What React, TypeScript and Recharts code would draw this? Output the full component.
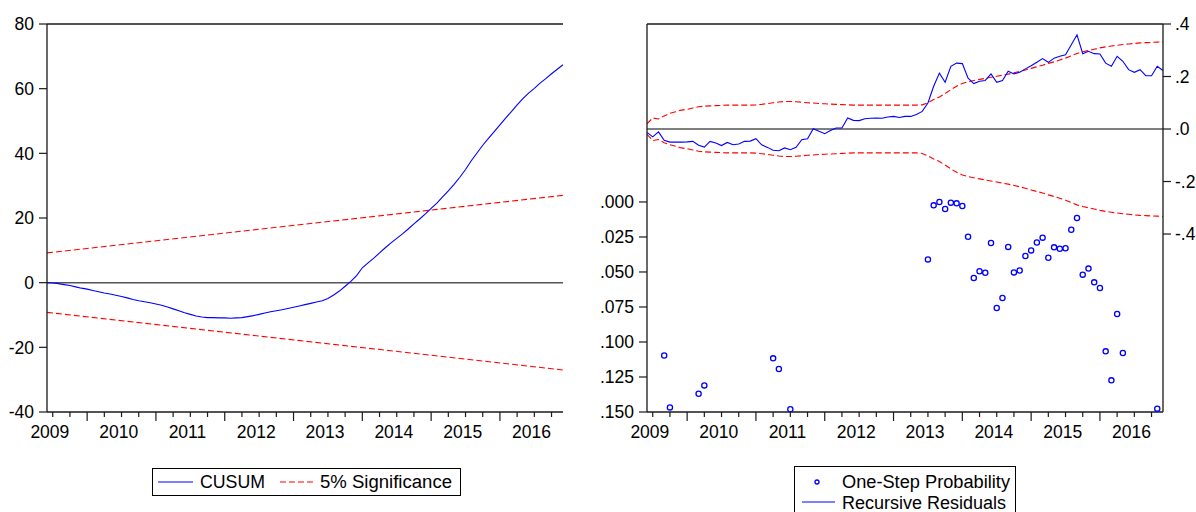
import { ComposedChart, Line, Scatter, XAxis, YAxis, ReferenceLine } from 'recharts';

const FONT = 'Arial, "Liberation Sans", Helvetica, sans-serif';

// month index of each observation (plot runs from obs 0 to obs 90)
const months = Array.from({ length: 91 }, (_, i) => i);

// x-axis decoration: quarterly minor ticks, longer ticks, year labels
const minorTicks = [1, 4, 7, 10, 13, 16, 19, 22, 25, 28, 31, 34, 37, 40, 43, 46, 49, 52, 55, 58, 61, 64, 67, 70, 73, 76, 79, 82, 85, 88];
const majorTicks = [7, 19, 31, 43, 55, 67, 79];
const yearPos = [0.5, 12.5, 24.5, 36.5, 48.5, 60.5, 72.5, 84.5];
const yearLabels = ['2009', '2010', '2011', '2012', '2013', '2014', '2015', '2016'];

// CUSUM test
const cusum = [
  0, -0.1, -0.3, -0.6, -0.9, -1.3, -1.7, -2.0, -2.4, -2.8,
  -3.2, -3.5, -3.9, -4.3, -4.7, -5.2, -5.6, -5.9, -6.2, -6.6,
  -7.0, -7.5, -8.1, -8.7, -9.3, -9.8, -10.3, -10.6, -10.8, -10.8,
  -10.9, -10.9, -11.0, -10.9, -10.8, -10.5, -10.2, -9.8, -9.4, -9.0,
  -8.7, -8.4, -8.0, -7.6, -7.2, -6.8, -6.4, -6.0, -5.6, -4.9,
  -3.8, -2.6, -1.1, 0.4, 2.2, 4.6, 6.1, 7.6, 9.2, 10.8,
  12.3, 13.7, 15.1, 16.6, 18.2, 19.7, 21.3, 23.0, 24.6, 26.5,
  28.4, 30.4, 32.6, 35.0, 37.7, 40.1, 42.5, 44.6, 46.7, 48.8,
  50.9, 52.9, 55.0, 56.9, 58.6, 60.1, 61.7, 63.1, 64.6, 66.0, 67.4,
];
const sigT = [0, 90];
const sigUpper = [9.2, 27.0];
const sigLower = [-9.2, -27.0];
const cusumTicks = [-40, -20, 0, 20, 40, 60, 80];

// recursive residuals with +/- 2 S.E. bands
const recRes = [
  -0.013, -0.030, -0.011, -0.043, -0.050, -0.050, -0.050, -0.049, -0.047, -0.062,
  -0.069, -0.047, -0.053, -0.063, -0.051, -0.060, -0.057, -0.047, -0.046, -0.037,
  -0.060, -0.070, -0.081, -0.083, -0.072, -0.079, -0.070, -0.041, -0.037, 0.001,
  -0.009, -0.018, -0.006, 0.004, 0.004, 0.042, 0.033, 0.032, 0.039, 0.041,
  0.042, 0.041, 0.046, 0.048, 0.044, 0.048, 0.048, 0.055, 0.067, 0.099,
  0.163, 0.213, 0.178, 0.239, 0.251, 0.249, 0.194, 0.173, 0.182, 0.185,
  0.210, 0.178, 0.185, 0.220, 0.210, 0.216, 0.229, 0.241, 0.254, 0.268,
  0.254, 0.270, 0.277, 0.283, 0.321, 0.359, 0.287, 0.296, 0.287, 0.286,
  0.251, 0.239, 0.277, 0.258, 0.226, 0.216, 0.226, 0.203, 0.203, 0.239, 0.223,
];
const seUpper = [
  0.020, 0.042, 0.038, 0.050, 0.060, 0.066, 0.072, 0.075, 0.080, 0.085,
  0.087, 0.088, 0.089, 0.090, 0.091, 0.091, 0.091, 0.091, 0.091, 0.092,
  0.094, 0.097, 0.100, 0.103, 0.105, 0.105, 0.104, 0.102, 0.100, 0.099,
  0.097, 0.096, 0.095, 0.094, 0.093, 0.092, 0.091, 0.091, 0.091, 0.091,
  0.091, 0.091, 0.091, 0.091, 0.091, 0.091, 0.091, 0.091, 0.092, 0.100,
  0.112, 0.122, 0.135, 0.150, 0.163, 0.173, 0.180, 0.185, 0.189, 0.193,
  0.197, 0.201, 0.205, 0.209, 0.214, 0.219, 0.225, 0.231, 0.237, 0.243,
  0.250, 0.256, 0.263, 0.270, 0.279, 0.288, 0.294, 0.299, 0.304, 0.309,
  0.313, 0.316, 0.319, 0.322, 0.324, 0.326, 0.328, 0.329, 0.330, 0.331, 0.332,
];
const seLower = [
  -0.020, -0.044, -0.040, -0.052, -0.060, -0.066, -0.072, -0.075, -0.080, -0.085,
  -0.087, -0.088, -0.089, -0.090, -0.091, -0.091, -0.091, -0.091, -0.091, -0.092,
  -0.094, -0.097, -0.100, -0.103, -0.105, -0.105, -0.104, -0.102, -0.100, -0.099,
  -0.097, -0.096, -0.095, -0.094, -0.093, -0.092, -0.091, -0.091, -0.091, -0.091,
  -0.091, -0.091, -0.091, -0.091, -0.091, -0.091, -0.091, -0.091, -0.093, -0.102,
  -0.114, -0.124, -0.137, -0.152, -0.165, -0.175, -0.181, -0.186, -0.190, -0.194,
  -0.198, -0.202, -0.206, -0.210, -0.215, -0.220, -0.226, -0.232, -0.238, -0.244,
  -0.251, -0.257, -0.264, -0.271, -0.280, -0.289, -0.295, -0.300, -0.305, -0.310,
  -0.314, -0.317, -0.320, -0.323, -0.325, -0.327, -0.329, -0.330, -0.331, -0.332, -0.333,
];
const resTicks = [-0.4, -0.2, 0, 0.2, 0.4];

// one-step forecast test probabilities (only those <= .15 are plotted)
const probT = [3, 4, 9, 10, 22, 23, 25, 49, 50, 51, 52, 53, 54, 55, 56, 57, 58, 59, 60, 61, 62, 63, 64, 65, 66, 67, 68, 69, 70, 71, 72, 73, 74, 75, 76, 77, 78, 79, 80, 81, 82, 83, 89];
const probV = [
  0.1096, 0.1467, 0.137, 0.131, 0.1117, 0.1193, 0.148,
  0.041, 0.0024, 0.0, 0.005, 0.0005, 0.001, 0.0029, 0.0248, 0.0543, 0.0495, 0.0505, 0.0293, 0.0757,
  0.0686, 0.0321, 0.0503, 0.0489, 0.0386, 0.0346, 0.029, 0.0255, 0.0398, 0.0324, 0.0334, 0.0331, 0.0198,
  0.0114, 0.0519, 0.0476, 0.0574, 0.0614, 0.1067, 0.1274, 0.08, 0.1079, 0.1476,
];
const probTicks = [0, 0.025, 0.05, 0.075, 0.1, 0.125, 0.15];

const BLUE = '#0000ff';
const RED = '#ff0000';
const AXIS = '#1a1a1a';
const FS = 17.5;

const cusumData = months.map((t, i) => ({ t, cusum: cusum[i] }));
const sigData = sigT.map((t, i) => ({ t, up: sigUpper[i], lo: sigLower[i] }));
const resData = months.map((t, i) => ({ t, res: recRes[i], up: seUpper[i], lo: seLower[i] }));
const probData = probT.map((t, i) => ({ t, p: probV[i] }));
const xTicks = [...yearPos, ...minorTicks];

function XTick(props: any) {
  const { x, y, payload } = props;
  const v = payload.value;
  const li = yearPos.indexOf(v);
  if (li >= 0) {
    return (
      <text x={x} y={y + 26} textAnchor="middle" fontSize={FS} fontFamily={FONT} fill="#000">
        {yearLabels[li]}
      </text>
    );
  }
  const len = majorTicks.includes(v) ? 9 : 5;
  return <line x1={x} y1={y} x2={x} y2={y + len} stroke={AXIS} strokeWidth={1.2} />;
}

const dot = (p: any) => (
  <circle cx={p.cx} cy={p.cy} r={2.6} fill="none" stroke={BLUE} strokeWidth={1.3} />
);

const fmtProb = (v: number) => v.toFixed(3).replace(/^0/, '');
const fmtRes = (v: number) => v.toFixed(1).replace('0.', '.');

const tickStyle = { fill: '#000', fontSize: FS, fontFamily: FONT };

function xAxisEl() {
  return (
    <XAxis
      dataKey="t"
      type="number"
      domain={[0, 90]}
      ticks={xTicks}
      interval={0}
      tickSize={0}
      tickMargin={0}
      tickLine={false}
      axisLine={{ stroke: AXIS, strokeWidth: 1.3 }}
      tick={<XTick />}
      height={30}
      allowDataOverflow
    />
  );
}

export default function App() {
  return (
    <div style={{ position: 'absolute', left: 0, top: 0, width: 1196, height: 512, background: '#fff', overflow: 'hidden' }}>
      <div style={{ position: 'absolute', left: 0, top: 0 }}>
        <ComposedChart width={600} height={512} data={cusumData} margin={{ top: 24, left: 0, right: 37, bottom: 70 }}>
          {xAxisEl()}
          <YAxis
            type="number"
            domain={[-40, 80]}
            ticks={cusumTicks}
            width={47}
            tickSize={8}
            tickMargin={5}
            tick={tickStyle}
            tickLine={{ stroke: AXIS, strokeWidth: 1.2 }}
            axisLine={{ stroke: AXIS, strokeWidth: 1.3 }}
            allowDataOverflow
          />
          <ReferenceLine y={80} stroke={AXIS} strokeWidth={1.3} />
          <ReferenceLine y={0} stroke="#555" strokeWidth={1.5} />
          <Line data={sigData} dataKey="up" stroke={RED} strokeDasharray="6 3" strokeWidth={1.1} dot={false} isAnimationActive={false} />
          <Line data={sigData} dataKey="lo" stroke={RED} strokeDasharray="6 3" strokeWidth={1.1} dot={false} isAnimationActive={false} />
          <Line dataKey="cusum" stroke={BLUE} strokeWidth={1.1} dot={false} isAnimationActive={false} />
        </ComposedChart>
      </div>
      <div style={{ position: 'absolute', left: 590, top: 0 }}>
        <ComposedChart width={606} height={512} data={resData} margin={{ top: 24, left: 0, right: 0, bottom: 70 }}>
          {xAxisEl()}
          <YAxis
            yAxisId="prob"
            orientation="left"
            type="number"
            reversed
            domain={[-0.1271, 0.15]}
            ticks={probTicks}
            tickFormatter={fmtProb}
            width={57}
            tickSize={8}
            tickMargin={5}
            tick={tickStyle}
            tickLine={{ stroke: AXIS, strokeWidth: 1.2 }}
            axisLine={{ stroke: AXIS, strokeWidth: 1.3 }}
            allowDataOverflow
          />
          <YAxis
            yAxisId="res"
            orientation="right"
            type="number"
            domain={[-1.078, 0.4]}
            ticks={resTicks}
            tickFormatter={fmtRes}
            width={33}
            tickSize={8}
            tickMargin={4}
            tick={{ ...tickStyle, textAnchor: 'start' }}
            tickLine={{ stroke: AXIS, strokeWidth: 1.2 }}
            axisLine={{ stroke: AXIS, strokeWidth: 1.3 }}
            allowDataOverflow
          />
          <ReferenceLine yAxisId="res" y={0.4} stroke={AXIS} strokeWidth={1.3} />
          <ReferenceLine yAxisId="res" y={0} stroke="#000" strokeWidth={1.2} />
          <Line yAxisId="res" dataKey="up" stroke={RED} strokeDasharray="6 3" strokeWidth={1.1} dot={false} isAnimationActive={false} />
          <Line yAxisId="res" dataKey="lo" stroke={RED} strokeDasharray="6 3" strokeWidth={1.1} dot={false} isAnimationActive={false} />
          <Line yAxisId="res" dataKey="res" stroke={BLUE} strokeWidth={1.1} dot={false} isAnimationActive={false} />
          <Scatter yAxisId="prob" data={probData} dataKey="p" shape={dot} isAnimationActive={false} />
        </ComposedChart>
      </div>
      <svg width={1196} height={512} style={{ position: 'absolute', left: 0, top: 0, pointerEvents: 'none' }}>
        <g fontFamily={FONT} fontSize={18} fill="#000">
          <rect x={152.5} y={468.5} width={308} height={27} fill="#fff" stroke="#000" strokeWidth={1} />
          <line x1={158} y1={482} x2={193} y2={482} stroke={BLUE} strokeWidth={1.2} />
          <text x={200} y={482} dominantBaseline="central" textLength={65} lengthAdjust="spacingAndGlyphs">CUSUM</text>
          <line x1={280} y1={482} x2={315} y2={482} stroke={RED} strokeWidth={1.2} strokeDasharray="6 3" />
          <text x={320} y={482} dominantBaseline="central" textLength={132} lengthAdjust="spacingAndGlyphs">5% Significance</text>

          <rect x={794.5} y={466.5} width={221} height={60} fill="#fff" stroke="#000" strokeWidth={1} />
          <circle cx={817} cy={482} r={2} fill="none" stroke={BLUE} strokeWidth={1.3} />
          <text x={842} y={482} dominantBaseline="central" textLength={168} lengthAdjust="spacingAndGlyphs">One-Step Probability</text>
          <line x1={802} y1={502} x2={835} y2={502} stroke={BLUE} strokeWidth={1.2} />
          <text x={842} y={503} dominantBaseline="central" textLength={164} lengthAdjust="spacingAndGlyphs">Recursive Residuals</text>
        </g>
      </svg>
    </div>
  );
}
